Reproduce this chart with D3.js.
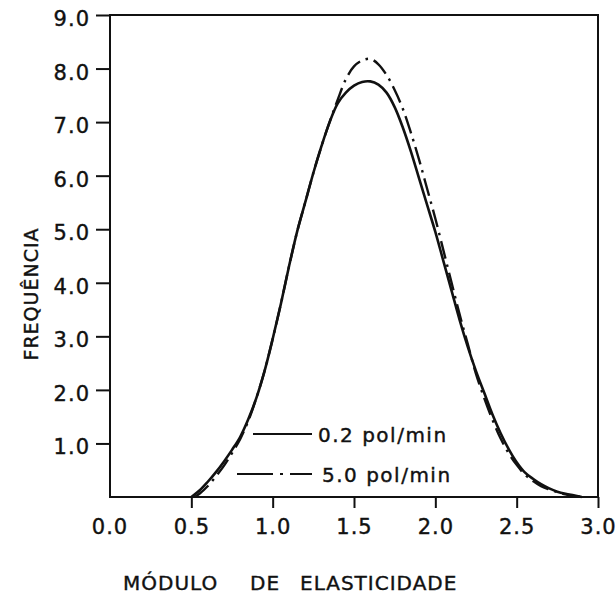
<!DOCTYPE html>
<html>
<head>
<meta charset="utf-8">
<script src="https://cdn.jsdelivr.net/npm/d3@7"></script>
<style>
body { margin: 0; background: #fff; }
text { font-family: "DejaVu Sans", sans-serif; fill: #111; stroke: #111; stroke-width: 0.4px; }
</style>
</head>
<body>
<svg id="chart" width="616" height="596"></svg>
<script>
// modulo de elasticidade (x) for each curve
var modSlow = [0.50,0.55,0.60,0.65,0.70,0.75,0.80,0.85,0.90,0.95,1.00,1.05,1.10,1.15,1.20,1.25,1.30,1.35,1.40,1.45,1.50,1.55,1.60,1.65,1.70,1.75,1.80,1.85,1.90,1.95,2.00,2.05,2.10,2.15,2.20,2.25,2.30,2.35,2.40,2.45,2.50,2.55,2.60,2.65,2.70,2.75,2.80,2.85,2.90];
var freqSlow = [0,0.12,0.28,0.46,0.66,0.88,1.12,1.45,1.85,2.35,2.95,3.6,4.3,4.95,5.5,6.05,6.55,7.0,7.35,7.55,7.68,7.75,7.76,7.7,7.55,7.28,6.9,6.45,5.95,5.45,4.95,4.4,3.85,3.3,2.8,2.35,1.95,1.55,1.2,0.9,0.65,0.46,0.34,0.24,0.16,0.1,0.06,0.03,0];

var modFast = [0.52,0.55,0.60,0.65,0.70,0.75,0.80,0.85,0.90,0.95,1.00,1.05,1.10,1.15,1.20,1.25,1.30,1.35,1.40,1.45,1.50,1.55,1.60,1.65,1.70,1.75,1.80,1.85,1.90,1.95,2.00,2.05,2.10,2.15,2.20,2.25,2.30,2.35,2.40,2.45,2.50,2.55,2.60,2.65,2.70,2.75,2.80,2.85,2.90];
var freqFast = [0,0.06,0.2,0.38,0.58,0.82,1.08,1.42,1.85,2.35,2.95,3.6,4.3,4.95,5.5,6.05,6.55,7.0,7.42,7.8,8.04,8.15,8.18,8.08,7.88,7.6,7.25,6.8,6.3,5.75,5.2,4.6,4.0,3.4,2.85,2.3,1.85,1.45,1.1,0.82,0.6,0.42,0.3,0.2,0.14,0.09,0.05,0.02,0];

var xTicks = [0.5,1.0,1.5,2.0,2.5,3.0];
var yTicks = [1,2,3,4,5,6,7,8,9];
var legendLabels = ["0.2 pol/min", "5.0 pol/min"];

var svg = d3.select("#chart");

var x = d3.scaleLinear().domain([0, 3]).range([110, 598]);
var y = d3.scaleLinear().domain([0, 9]).range([497, 15]);

// frame
svg.append("rect")
	.attr("x", x(0)).attr("y", y(9))
	.attr("width", x(3) - x(0)).attr("height", y(0) - y(9))
	.attr("fill", "none").attr("stroke", "#111").attr("stroke-width", 2);

// axes
var xAxis = svg.append("g")
	.attr("transform", "translate(0," + y(0) + ")")
	.call(d3.axisBottom(x).tickValues(xTicks).tickSize(11).tickPadding(11)
		.tickFormat(function(d){ return d.toFixed(1); }));
// 0.0 label sits under the corner, no tick
xAxis.append("text")
	.attr("x", x(0)).attr("y", 22).attr("dy", "0.71em")
	.attr("text-anchor", "middle")
	.text("0.0");

var yAxis = svg.append("g")
	.attr("transform", "translate(" + x(0) + ",0)")
	.call(d3.axisLeft(y).tickValues(yTicks).tickSize(14).tickPadding(6)
		.tickFormat(function(d){ return d.toFixed(1); }));

svg.selectAll(".domain").remove();
svg.selectAll(".tick line").attr("stroke", "#111").attr("stroke-width", 2);
svg.selectAll("g text")
	.style("font-size", "21px")
	.style("letter-spacing", "1px")
	.style("fill", "#111");
yAxis.selectAll(".tick text").attr("dy", "0.5em");

// curves
var line = d3.line()
	.x(function(d){ return x(d[0]); })
	.y(function(d){ return y(d[1]); })
	.curve(d3.curveCatmullRom);

svg.append("path")
	.datum(d3.zip(modSlow, freqSlow))
	.attr("d", line)
	.attr("fill", "none").attr("stroke", "#111").attr("stroke-width", 2.6);

svg.append("path")
	.datum(d3.zip(modFast, freqFast))
	.attr("d", line)
	.attr("fill", "none").attr("stroke", "#111").attr("stroke-width", 2.4)
	.attr("stroke-dasharray", "18,6,2.5,6");

// legend
svg.append("line")
	.attr("x1", 253).attr("x2", 312).attr("y1", 434).attr("y2", 434)
	.attr("stroke", "#111").attr("stroke-width", 2);
svg.append("line")
	.attr("x1", 237).attr("x2", 312).attr("y1", 474).attr("y2", 474)
	.attr("stroke", "#111").attr("stroke-width", 2)
	.attr("stroke-dasharray", "36,7,3,7,30");
svg.selectAll(".legend")
	.data(legendLabels)
	.enter()
	.append("text")
	.attr("class", "legend")
	.attr("x", function(d, i){ return i == 0 ? 318 : 322; })
	.attr("y", function(d, i){ return i == 0 ? 442 : 482; })
	.style("font-size", "20px")
	.style("letter-spacing", "1.5px")
	.text(function(d){ return d; });

// axis titles
var xTitle = ["MÓDULO", "DE", "ELASTICIDADE"];
var xTitlePos = [123, 250, 300];
svg.selectAll(".xtitle")
	.data(xTitle)
	.enter()
	.append("text")
	.attr("class", "xtitle")
	.attr("x", function(d, i){ return xTitlePos[i]; })
	.attr("y", 590)
	.style("font-size", "20px")
	.style("letter-spacing", "1px")
	.text(function(d){ return d; });

svg.append("text")
	.attr("transform", "translate(38,294) rotate(-90)")
	.attr("text-anchor", "middle")
	.style("font-size", "19px")
	.style("letter-spacing", "1px")
	.text("FREQUÊNCIA");
</script>
</body>
</html>
